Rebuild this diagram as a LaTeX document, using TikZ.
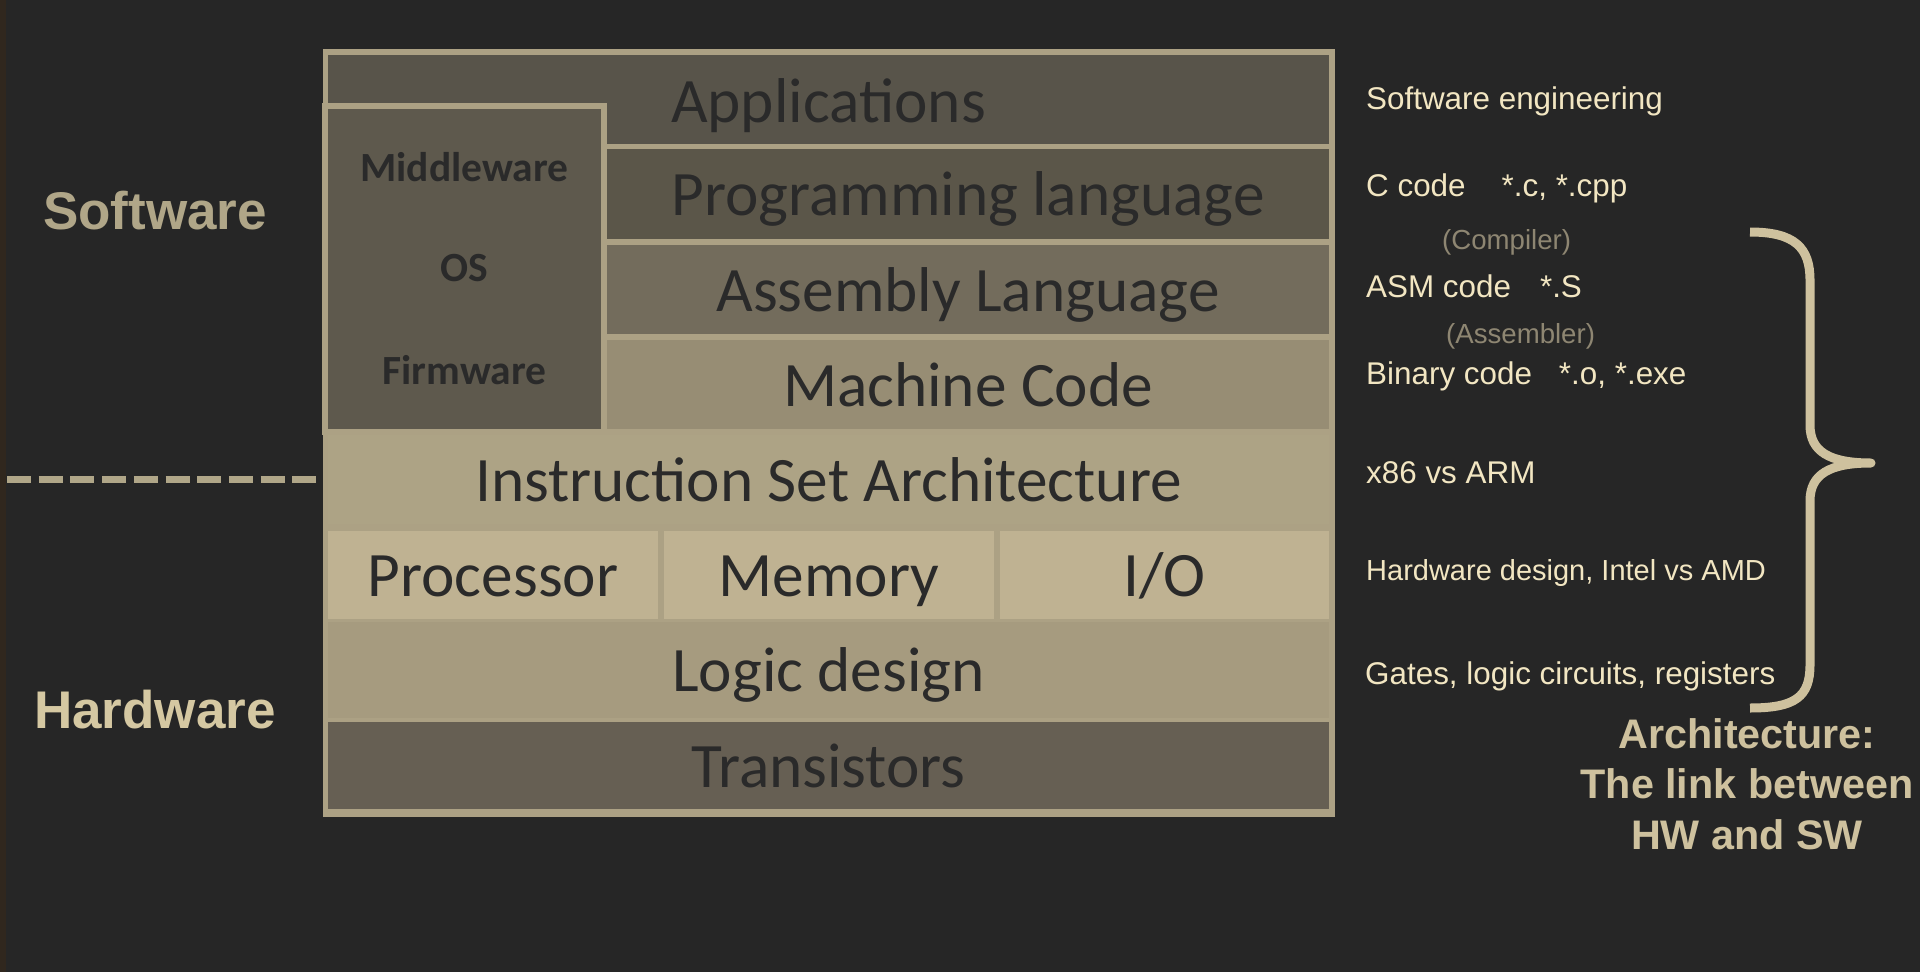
\documentclass[tikz,border=0pt]{standalone}
\usepackage{fontspec}
\setmainfont{Liberation Sans}
\newfontfamily\carlito{Carlito}
\definecolor{bg}{HTML}{262626}
\definecolor{edge}{HTML}{30271E}
\definecolor{frame}{HTML}{ACA184}
\definecolor{appsc}{HTML}{58544A}
\definecolor{mwc}{HTML}{5E594D}
\definecolor{progc}{HTML}{5B5649}
\definecolor{asmc}{HTML}{736C5C}
\definecolor{machc}{HTML}{978D74}
\definecolor{isac}{HTML}{ADA385}
\definecolor{pmic}{HTML}{BFB292}
\definecolor{logicc}{HTML}{A69B7F}
\definecolor{transc}{HTML}{665F53}
\definecolor{boxtext}{HTML}{2A2A2A}
\definecolor{note}{HTML}{F2E6C2}
\definecolor{notegray}{HTML}{8E8672}
\definecolor{swcol}{HTML}{B0A688}
\definecolor{hwcol}{HTML}{D5C8A2}
\definecolor{archcol}{HTML}{CEC19E}
\begin{document}
\begin{tikzpicture}[x=1pt,y=-1pt,
  layer/.style={inner sep=0pt, outer sep=0pt, text=boxtext,
    font=\carlito\fontsize{63.3}{70}\selectfont, text height=43pt, text depth=0pt},
  mwl/.style={inner sep=0pt, anchor=base, text=boxtext, font=\carlito\bfseries\fontsize{41.5}{46}\selectfont},
  side/.style={inner sep=0pt, anchor=base west, font=\bfseries\fontsize{53}{60}\selectfont},
  notes/.style={inner sep=0pt, anchor=base west, text=note, font=\fontsize{31.4}{36}\selectfont},
  sub/.style={inner sep=0pt, anchor=base west, text=notegray, font=\fontsize{27.6}{32}\selectfont},
  archl/.style={inner sep=0pt, anchor=base, text=archcol, font=\bfseries\fontsize{41.3}{46}\selectfont},
  dashline/.style={draw=swcol, line width=7pt, dash pattern=on 24pt off 7.7pt},
  bracel/.style={draw=archcol, line width=9pt, line join=round}]
\fill[bg] (0,0) rectangle (1920,972);
\useasboundingbox (0,0) rectangle (1920,972);
\fill[edge] (0,0) rectangle (6,972);

% frame
\node[fill=frame, minimum width=1012pt, minimum height=768pt, inner sep=0pt] (frame) at (829,433) {};

% layers
\node[layer, fill=appsc, minimum width=1001pt, minimum height=89pt, text height=46pt] (apps) at (828.5,99.5) {Applications};
\node[inner sep=0pt, fill=mwc, draw=frame, line width=6pt, minimum width=279pt, minimum height=326.5pt] (mw) at (464.5,268.75) {};
\node[layer, fill=progc, minimum width=722pt, minimum height=90pt] (prog) at (968,194) {Programming language};
\node[layer, fill=asmc, minimum width=722pt, minimum height=89pt] (asm) at (968,289.5) {Assembly Language};
\node[layer, fill=machc, minimum width=722pt, minimum height=89pt] (mach) at (968,384.5) {Machine Code};
\node[layer, fill=isac, minimum width=1001pt, minimum height=89pt] (isa) at (828.5,479.5) {Instruction Set Architecture};
\node[layer, fill=pmic, minimum width=330pt, minimum height=88pt] (proc) at (493,575) {Processor};
\node[layer, fill=pmic, minimum width=330pt, minimum height=88pt] (mem) at (829,575) {Memory};
\node[layer, fill=pmic, minimum width=329pt, minimum height=88pt] (io) at (1164.5,575) {I/O};
\node[layer, fill=logicc, minimum width=1001pt, minimum height=96pt] (logic) at (828.5,670) {Logic design};
\node[layer, fill=transc, minimum width=1001pt, minimum height=87pt] (trans) at (828.5,765.5) {Transistors};

\node[mwl] (mwa) at (464.5,181.7) {Middleware};
\node[mwl] (mwb) at (464.5,281.7) {OS};
\node[mwl] (mwc) at (464.5,384) {Firmware};

% left labels
\node[side, text=swcol] (sw) at (43,229.6) {Software};
\node[side, text=hwcol] (hw) at (34,728) {Hardware};
\coordinate (dl) at (7,479);
\coordinate (dr) at (318,479);
\draw[dashline] (dl) -- (dr);

% right notes
\node[notes] (n1) at (1366,109) {Software engineering};
\node[notes] (n2) at (1366,196) {C code\hspace{36pt}*.c, *.cpp};
\node[sub] (s1) at (1442,249) {(Compiler)};
\node[notes] (n3) at (1366,297) {ASM code\hspace{29pt}*.S};
\node[sub] (s2) at (1446,343) {(Assembler)};
\node[notes] (n4) at (1366,384) {Binary code\hspace{27pt}*.o, *.exe};
\node[notes] (n5) at (1366,483) {x86 vs ARM};
\node[notes, font=\fontsize{29}{34}\selectfont] (n6) at (1366,580) {Hardware design, Intel vs AMD};
\node[notes] (n7) at (1365,684) {Gates, logic circuits, registers};

% brace
\draw[bracel] (1750,232) .. controls (1795,232) and (1810,248) .. (1810,280)
  -- (1810,425) .. controls (1810,452) and (1830,463) .. (1871,463)
  .. controls (1830,463) and (1810,474) .. (1810,501)
  -- (1810,665) .. controls (1810,697) and (1795,708) .. (1750,708);

\node[archl] (a1) at (1747,748) {Architecture:};
\node[archl] (a2) at (1747,798) {The link between};
\node[archl] (a3) at (1747,849) {HW and SW};
\end{tikzpicture}
\end{document}
